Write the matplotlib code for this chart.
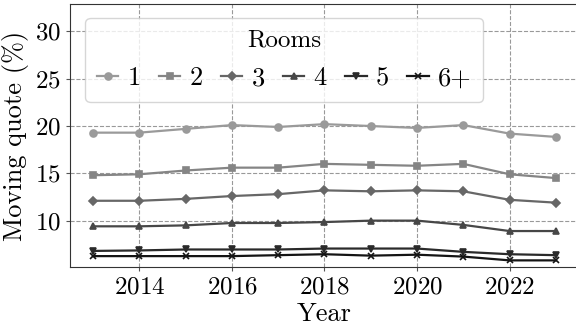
import matplotlib
matplotlib.use('Agg')
import matplotlib.pyplot as plt

# Moving quote by number of rooms, 2013-2023
years = [2013, 2014, 2015, 2016, 2017, 2018, 2019, 2020, 2021, 2022, 2023]
rooms = ['1', '2', '3', '4', '5', '6+']
quote_1 = [19.3, 19.3, 19.7, 20.1, 19.9, 20.2, 20.0, 19.8, 20.1, 19.2, 18.85]
quote_2 = [14.8, 14.9, 15.3, 15.6, 15.6, 16.0, 15.9, 15.8, 16.0, 14.9, 14.5]
quote_3 = [12.1, 12.1, 12.3, 12.6, 12.8, 13.2, 13.1, 13.2, 13.1, 12.2, 11.9]
quote_4 = [9.4, 9.4, 9.5, 9.75, 9.75, 9.85, 10.0, 10.0, 9.55, 8.9, 8.9]
quote_5 = [6.8, 6.85, 6.95, 6.95, 6.95, 7.05, 7.05, 7.05, 6.7, 6.45, 6.35]
quote_6 = [6.25, 6.25, 6.25, 6.25, 6.35, 6.45, 6.3, 6.4, 6.2, 5.8, 5.8]
series = [quote_1, quote_2, quote_3, quote_4, quote_5, quote_6]

markers = ['o', 's', 'D', '^', 'v', 'x']
colors = ['#9a9a9a', '#858585', '#676767', '#474747', '#2a2a2a', '#141414']

plt.rcParams['font.family'] = ['cmr10']
plt.rcParams['axes.formatter.use_mathtext'] = True
plt.rcParams['axes.unicode_minus'] = False

fig = plt.figure(figsize=(5.76, 3.27), dpi=100)
ax = fig.add_axes([0.1215, 0.1835, 0.8837, 0.8043])

for vals, label, m, c in zip(series, rooms, markers, colors):
    ax.plot(years, vals, marker=m, color=c, label=label, linewidth=1.6,
            markersize=5 if m != 'D' else 4.5, markeredgewidth=1.2)

ax.set_xlim(2012.5, 2023.5)
ax.set_ylim(5.1, 32.9)
ax.set_xticks([2014, 2016, 2018, 2020, 2022])
ax.set_yticks([10, 15, 20, 25, 30])
ax.tick_params(labelsize=18, length=3, color='#555555')
ax.grid(True, linestyle='--', color='#999999', linewidth=0.8)
for s in ax.spines.values():
    s.set_color('#333333')

ax.set_xlabel('Year', fontsize=19, labelpad=3)
ax.set_ylabel('Moving quote (%)', fontsize=19, labelpad=4)

ax.legend(title='Rooms', ncol=6, loc='upper left', fontsize=19,
          title_fontsize=18, bbox_to_anchor=(0.03, 0.947), borderaxespad=0,
          handlelength=0.8, handletextpad=0.35, columnspacing=0.7,
          borderpad=0.45, labelspacing=0.55,
          framealpha=0.8, edgecolor='#cccccc')

fig.savefig('out.png', dpi=100)
